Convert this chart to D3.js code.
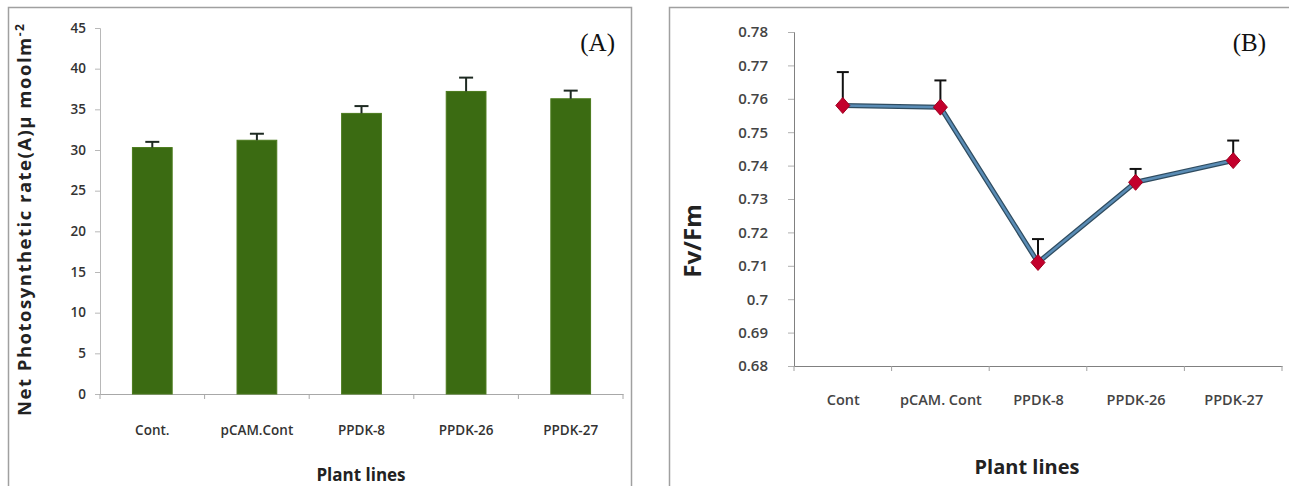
<!DOCTYPE html>
<html><head><meta charset="utf-8">
<script src="https://cdn.jsdelivr.net/npm/d3@7"></script>
<style>
html,body{margin:0;padding:0;background:#fff;}
svg{display:block;}
.tick text{font-family:"Open Sans",sans-serif;}
</style></head>
<body>
<svg id="chart" width="1289" height="486"></svg>
<script>
// ---- data ----
const categoriesA = ["Cont.", "pCAM.Cont", "PPDK-8", "PPDK-26", "PPDK-27"];
const rateValues = [30.3, 31.2, 34.5, 37.2, 36.3];
const rateErrors = [0.7, 0.8, 0.9, 1.7, 1.0];
const ticksA = [0, 5, 10, 15, 20, 25, 30, 35, 40, 45];

const categoriesB = ["Cont", "pCAM. Cont", "PPDK-8", "PPDK-26", "PPDK-27"];
const fvfmValues = [0.758, 0.7575, 0.711, 0.735, 0.7415];
const fvfmErrors = [0.010, 0.008, 0.007, 0.004, 0.006];
const ticksB = [0.68, 0.69, 0.7, 0.71, 0.72, 0.73, 0.74, 0.75, 0.76, 0.77, 0.78];

const svg = d3.select("#chart");
const font = '"Open Sans", sans-serif';

// ---------- Panel A ----------
svg.append("rect").attr("x", 8.5).attr("y", 7.5).attr("width", 623).attr("height", 490)
  .attr("fill", "none").attr("stroke", "#a0a0a0").attr("stroke-width", 1.5);

const xA = d3.scaleBand().domain(categoriesA).range([100, 623]).paddingInner(0.62).paddingOuter(0.31);
const yA = d3.scaleLinear().domain([0, 45]).range([394, 28]);

const gA = svg.append("g");
// y axis
const yAxisA = gA.append("g").attr("transform", "translate(100,0)")
  .call(d3.axisLeft(yA).tickValues(ticksA).tickSize(5).tickPadding(9));
yAxisA.select(".domain").attr("stroke", "#b8b8b8");
yAxisA.selectAll(".tick line").attr("stroke", "#b8b8b8");
yAxisA.selectAll(".tick text").attr("font-size", 13.5).attr("font-weight", 600).attr("fill", "#333");

// x axis
const xAxisA = gA.append("g").attr("transform", "translate(0,394)")
  .call(d3.axisBottom(xA).tickSize(0).tickPadding(31));
xAxisA.select(".domain").attr("stroke", "#a8a8a8");
xAxisA.selectAll(".tick text").attr("font-size", 13.5).attr("font-weight", 600).attr("fill", "#333");
const boundsA = categoriesA.map(c => xA(c) - xA.step() * xA.paddingInner() / 2).concat([xA.range()[1]]);
gA.append("g").selectAll("line").data(boundsA).join("line")
  .attr("x1", d => d).attr("x2", d => d).attr("y1", 394).attr("y2", 399)
  .attr("stroke", "#a8a8a8");

// bars
gA.append("g").selectAll("rect").data(rateValues).join("rect")
  .attr("x", (d, i) => xA(categoriesA[i]))
  .attr("width", xA.bandwidth())
  .attr("y", d => yA(d))
  .attr("height", d => yA(0) - yA(d))
  .attr("fill", "#3b6b12").attr("stroke", "#4b7a1c").attr("stroke-width", 1);

// error bars
const errA = gA.append("g").attr("stroke", "#1e2a22").attr("stroke-width", 2);
rateValues.forEach((v, i) => {
  const cx = xA(categoriesA[i]) + xA.bandwidth() / 2;
  errA.append("line").attr("x1", cx).attr("x2", cx).attr("y1", yA(v)).attr("y2", yA(v + rateErrors[i]));
  errA.append("line").attr("x1", cx - 7).attr("x2", cx + 7).attr("y1", yA(v + rateErrors[i])).attr("y2", yA(v + rateErrors[i]));
});

// labels
gA.append("text").attr("transform", "translate(31,220) rotate(-90)")
  .attr("text-anchor", "middle").attr("font-family", font).attr("font-weight", 700)
  .attr("font-size", 18.5).attr("fill", "#222")
  .attr("textLength", 392).attr("lengthAdjust", "spacing")
  .text("Net Photosynthetic rate(A)μ moolm")
  .append("tspan").attr("dy", -7).attr("font-size", 12).text("-2");
gA.append("text").attr("x", 361).attr("y", 481).attr("text-anchor", "middle")
  .attr("font-family", font).attr("font-weight", 700).attr("font-size", 17).attr("fill", "#222")
  .text("Plant lines");
gA.append("text").attr("x", 615).attr("y", 51).attr("text-anchor", "end")
  .attr("font-family", '"Liberation Serif", serif').attr("font-size", 25).attr("fill", "#111")
  .text("(A)");

// ---------- Panel B ----------
svg.append("rect").attr("x", 669.5).attr("y", 7.5).attr("width", 640).attr("height", 490)
  .attr("fill", "none").attr("stroke", "#a0a0a0").attr("stroke-width", 1.5);

const xB = d3.scalePoint().domain(categoriesB).range([794, 1282]).padding(0.5);
const yB = d3.scaleLinear().domain([0.68, 0.78]).range([366, 32]);
const gB = svg.append("g");

const yAxisB = gB.append("g").attr("transform", "translate(794,0)")
  .call(d3.axisLeft(yB).tickValues(ticksB).tickFormat(d3.format("")).tickSize(6).tickPadding(20));
yAxisB.select(".domain").attr("stroke", "#808080");
yAxisB.selectAll(".tick line").attr("stroke", "#b0b0b0");
yAxisB.selectAll(".tick text").attr("font-size", 15).attr("font-weight", 600).attr("fill", "#444");

const xAxisB = gB.append("g").attr("transform", "translate(0,366)")
  .call(d3.axisBottom(xB).tickSize(0).tickPadding(29));
xAxisB.select(".domain").attr("stroke", "#808080");
xAxisB.selectAll(".tick text").attr("font-size", 14.5).attr("font-weight", 600).attr("fill", "#444");
const stepB = xB.step();
const boundsB = categoriesB.map(c => xB(c) - stepB / 2).concat([xB.range()[1]]);
gB.append("g").selectAll("line").data(boundsB).join("line")
  .attr("x1", d => d).attr("x2", d => d).attr("y1", 366).attr("y2", 371)
  .attr("stroke", "#a0a0a0");

// error bars (upward)
const errB = gB.append("g").attr("stroke", "#111").attr("stroke-width", 2);
fvfmValues.forEach((v, i) => {
  const cx = xB(categoriesB[i]);
  errB.append("line").attr("x1", cx).attr("x2", cx).attr("y1", yB(v)).attr("y2", yB(v + fvfmErrors[i]));
  errB.append("line").attr("x1", cx - 6).attr("x2", cx + 6).attr("y1", yB(v + fvfmErrors[i])).attr("y2", yB(v + fvfmErrors[i]));
});

// line
const lineGen = d3.line().x((d, i) => xB(categoriesB[i])).y(d => yB(d));
gB.append("path").datum(fvfmValues).attr("d", lineGen)
  .attr("fill", "none").attr("stroke", "#2f4c60").attr("stroke-width", 5).attr("stroke-linejoin", "round");
gB.append("path").datum(fvfmValues).attr("d", lineGen)
  .attr("fill", "none").attr("stroke", "#5a8cb5").attr("stroke-width", 2.5).attr("stroke-linejoin", "round");

// markers
gB.append("g").selectAll("path").data(fvfmValues).join("path")
  .attr("transform", (d, i) => `translate(${xB(categoriesB[i])},${yB(d)})`)
  .attr("d", "M0,-8L7,0L0,8L-7,0Z")
  .attr("fill", "#c3002c").attr("stroke", "#a00020").attr("stroke-width", 1);

// labels
gB.append("text").attr("transform", "translate(701,241) rotate(-90)")
  .attr("text-anchor", "middle").attr("font-family", font).attr("font-weight", 700)
  .attr("font-size", 24).attr("fill", "#222").text("Fv/Fm");
gB.append("text").attr("x", 1027).attr("y", 474).attr("text-anchor", "middle")
  .attr("font-family", font).attr("font-weight", 700).attr("font-size", 20).attr("fill", "#222")
  .text("Plant lines");
gB.append("text").attr("x", 1266).attr("y", 51).attr("text-anchor", "end")
  .attr("font-family", '"Liberation Serif", serif').attr("font-size", 25).attr("fill", "#111")
  .text("(B)");
</script>
</body></html>
